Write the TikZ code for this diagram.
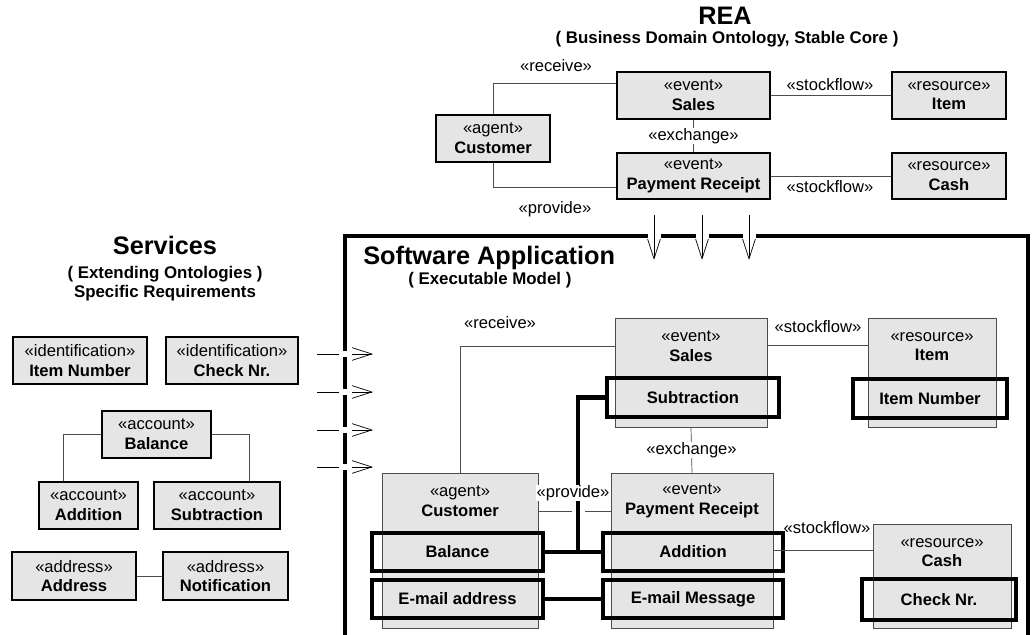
\documentclass[tikz,border=0pt]{standalone}
\usepackage{fontspec}
\setmainfont{Liberation Sans}
\usetikzlibrary{arrows.meta}

\definecolor{boxgray}{gray}{0.9}

\begin{document}
\begin{tikzpicture}[x=0.025cm,y=-0.025cm,>={Straight Barb[length=14pt,width=9pt]},
  txt/.style={font=\fontsize{11.8}{14}\selectfont,align=center,inner sep=0pt},
  core/.style={txt,draw=black,line width=0.9pt,fill=boxgray},
  cls/.style={txt,draw=black!70,line width=0.6pt,fill=boxgray},
  attr/.style={txt,draw=black,line width=3pt},
  sz/.style 2 args={minimum width=#1*0.025cm,minimum height=#2*0.025cm},
  rel/.style={draw=black!70,line width=0.5pt},
  link/.style={draw=black,line width=3pt},
  headline/.style={font=\bfseries\fontsize{18}{21}\selectfont,inner sep=0pt},
  subhead/.style={font=\bfseries\fontsize{12}{14}\selectfont,inner sep=0pt,align=center},
  gap/.style={fill=white,inner sep=0.5pt}]
\useasboundingbox (0,0) rectangle (1034,635);

% frame of the software application
\draw[line width=3pt] (345,636) -- (345,236) -- (1028,236) -- (1028,636);

% REA core
\node[headline,anchor=base] (reat) at (725,25) {REA};
\node[subhead,anchor=base] (reas) at (727,44) {( Business Domain Ontology, Stable Core )};
\node[core,sz={114}{47}] (rcust) at (493,138.5) {«agent»\\\textbf{Customer}};
\node[core,sz={153}{47}] (rsales) at (693.5,95.5) {«event»\\\textbf{Sales}};
\node[core,sz={153}{46}] (rpay) at (693.5,176) {«event»\\\textbf{Payment Receipt}};
\node[core,sz={114}{47}] (ritem) at (949,95.5) {«resource»\\\textbf{Item}};
\node[core,sz={114}{46}] (rcash) at (949,176) {«resource»\\\textbf{Cash}};
\draw[rel] (rcust.north) |- (rsales.west |- 0,83);
\draw[rel] (rcust.south) |- (rpay.west |- 0,187);
\draw[rel] (rsales.south) -- node[txt,gap] (rexch) {«exchange»} (rpay.north);
\draw[rel] (rsales.east) -- (ritem.west);
\draw[rel] (rpay.east) -- (rcash.west);
\node[txt] (rrecv) at (556,66) {«receive»};
\node[txt] (rprov) at (555,209) {«provide»};
\node[txt] (rsf1) at (830,85) {«stockflow»};
\node[txt] (rsf2) at (830,187) {«stockflow»};

% REA into the application
\foreach \ax [count=\i] in {654,702,749} {
  \coordinate (dn\i) at (\ax,215);
  \coordinate (dt\i) at (\ax,260);
  \fill[white] (\ax-6.5,232) rectangle (\ax+6.5,240);
  \draw[rel,draw=black,->] (dn\i) -- (dt\i);
}

% services
\node[headline,anchor=base] (svt) at (165,255) {Services};
\node[subhead,anchor=base] (svs1) at (165,279) {( Extending Ontologies )};
\node[subhead,anchor=base] (svs2) at (165,298) {Specific Requirements};
\node[core,sz={134}{47}] (sitem) at (80,360.5) {«identification»\\\textbf{Item Number}};
\node[core,sz={132}{47}] (scheck) at (232,360.5) {«identification»\\\textbf{Check Nr.}};
\node[core,sz={109}{47}] (sbal) at (156.5,434.5) {«account»\\\textbf{Balance}};
\node[core,sz={99}{47}] (sadd) at (88.5,505.5) {«account»\\\textbf{Addition}};
\node[core,sz={126}{47}] (ssub) at (217,505.5) {«account»\\\textbf{Subtraction}};
\node[core,sz={124}{48}] (saddr) at (74,576) {«address»\\\textbf{Address}};
\node[core,sz={125}{48}] (snote) at (225.5,576) {«address»\\\textbf{Notification}};
\draw[rel] (sbal.west) -| (63,0 |- sadd.north);
\draw[rel] (sbal.east) -| (249,0 |- ssub.north);
\draw[rel] (saddr) -- (snote);

% services into the application
\foreach \ay [count=\i] in {354,392,430,467} {
  \coordinate (ls\i) at (317,\ay);
  \coordinate (lt\i) at (373,\ay);
  \draw[rel,draw=black,->] (ls\i) -- (lt\i);
  \fill[white] (339,\ay-3) rectangle (352,\ay+3);
}

% software application
\node[headline,anchor=base west] (swt) at (363,265) {Software Application};
\node[subhead,anchor=base west] (sws) at (408,285) {( Executable Model )};

\node[cls,sz={152}{109}] (swsales) at (691,372.5) {};
\node[txt] (swsalest) at (691,346.5) {«event»\\\textbf{Sales}};
\node[attr,sz={172}{39}] (swsub) at (693,397.5) {\textbf{Subtraction}};

\node[cls,sz={128}{109}] (switem) at (932,372.5) {};
\node[txt] (switemt) at (932,346.5) {«resource»\\\textbf{Item}};
\node[attr,sz={154}{39}] (swnum) at (930,398.5) {\textbf{Item Number}};

\node[cls,sz={156}{155}] (swcust) at (460,550.5) {};
\node[txt] (swcustt) at (460,501) {«agent»\\\textbf{Customer}};
\node[attr,sz={171}{38}] (swbal) at (457.5,552) {\textbf{Balance}};
\node[attr,sz={171}{38}] (swmail) at (457.5,599) {\textbf{E-mail address}};

\node[cls,sz={162}{155}] (swpay) at (692,550.5) {};
\node[txt] (swpayt) at (692,501) {«event»\\\textbf{Payment Receipt}};
\node[attr,sz={180}{38}] (swadd) at (693,552) {\textbf{Addition}};
\node[attr,sz={180}{38}] (swmsg) at (693,599) {\textbf{E-mail Message}};

\node[cls,sz={138}{104}] (swcash) at (942,576) {};
\node[txt] (swcasht) at (942,552.5) {«resource»\\\textbf{Cash}};
\node[attr,sz={154}{41}] (swchk) at (939,599.5) {\textbf{Check Nr.}};

\draw[rel] (swcust.north) |- (swsales.west |- 0,346);
\draw[rel] (swsales.east |- 0,345) -- (switem.west |- 0,345);
\draw[rel] (swsales.south) -- node[txt,gap] (swexch) {«exchange»} (swpay.north);
\draw[rel] (swpay.east |- 0,550) -- (swcash.west |- 0,550);
\draw[rel] (swcust.east |- 0,511) -- (swpay.west |- 0,511);
\fill[white] (572,507) rectangle (585,515);
\draw[link] (swbal.east) -- (swadd.west);
\draw[link] (swsub.west) -| (578,0 |- swbal.east);
\draw[link] (swmail.east) -- (swmsg.west);

\node[txt] (swrecv) at (500,323) {«receive»};
\node[txt,gap] (swprov) at (573,493) {«provide»};
\node[txt] (swsf1) at (818,327) {«stockflow»};
\node[txt] (swsf2) at (827,528) {«stockflow»};
\end{tikzpicture}
\end{document}
